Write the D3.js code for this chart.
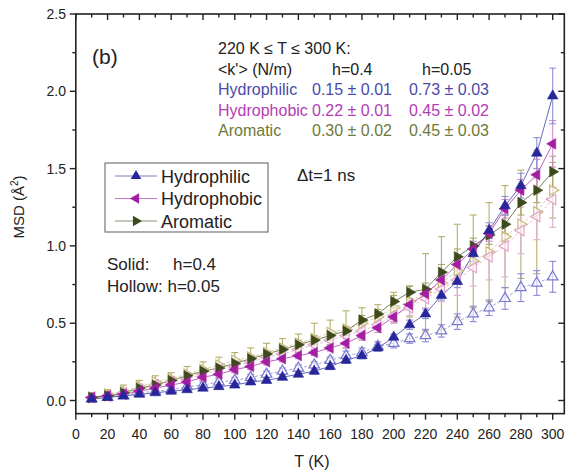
<!DOCTYPE html>
<html><head><meta charset="utf-8">
<script src="https://cdn.jsdelivr.net/npm/d3@7/dist/d3.min.js"></script>
<style>body{margin:0;background:#fff}svg{display:block;font-family:"Liberation Sans",Arial,sans-serif}</style>
</head><body><svg id="c" width="566" height="475"></svg>
<script>
const temps = d3.range(10, 301, 10);
const philicSolid = [0.01,0.02,0.03,0.04,0.05,0.06,0.07,0.08,0.09,0.10,0.12,0.13,0.15,0.17,0.19,0.22,0.26,0.29,0.34,0.41,0.49,0.56,0.68,0.77,0.95,1.10,1.26,1.39,1.60,1.97];
const philicSolidErr = [0.01,0.01,0.01,0.01,0.01,0.01,0.01,0.01,0.01,0.01,0.01,0.01,0.01,0.01,0.02,0.02,0.02,0.02,0.02,0.02,0.03,0.03,0.03,0.04,0.05,0.05,0.06,0.08,0.10,0.18];
const philicHollow = [0.01,0.02,0.03,0.05,0.06,0.07,0.09,0.10,0.12,0.13,0.15,0.17,0.19,0.21,0.23,0.26,0.29,0.31,0.35,0.37,0.40,0.42,0.45,0.51,0.56,0.60,0.66,0.73,0.76,0.80];
const philicHollowErr = [0.01,0.01,0.01,0.01,0.01,0.01,0.01,0.02,0.02,0.02,0.02,0.02,0.02,0.02,0.02,0.02,0.03,0.03,0.03,0.03,0.03,0.04,0.04,0.05,0.05,0.05,0.07,0.09,0.08,0.10];
const phobicSolid = [0.02,0.03,0.04,0.06,0.08,0.10,0.12,0.15,0.17,0.20,0.22,0.25,0.27,0.29,0.31,0.34,0.37,0.42,0.47,0.54,0.62,0.69,0.78,0.88,0.98,1.08,1.24,1.36,1.46,1.66];
const phobicSolidErr = [0.01,0.01,0.01,0.01,0.01,0.01,0.01,0.02,0.02,0.02,0.02,0.02,0.02,0.02,0.02,0.02,0.03,0.03,0.03,0.03,0.03,0.04,0.04,0.04,0.05,0.05,0.06,0.07,0.10,0.15];
const phobicHollow = [0.02,0.03,0.05,0.07,0.10,0.12,0.14,0.17,0.20,0.22,0.25,0.28,0.30,0.33,0.36,0.39,0.42,0.45,0.49,0.55,0.60,0.66,0.72,0.78,0.86,0.93,1.00,1.10,1.19,1.30];
const phobicHollowErr = [0.02,0.02,0.02,0.02,0.02,0.02,0.03,0.03,0.03,0.03,0.03,0.03,0.04,0.04,0.04,0.04,0.05,0.05,0.05,0.05,0.05,0.06,0.08,0.10,0.12,0.15,0.20,0.15,0.15,0.18];
const aroSolid = [0.02,0.03,0.05,0.08,0.10,0.13,0.16,0.19,0.21,0.24,0.27,0.30,0.33,0.36,0.39,0.42,0.45,0.52,0.56,0.64,0.70,0.72,0.83,0.93,1.00,1.07,1.14,1.28,1.36,1.48];
const aroSolidErr = [0.01,0.01,0.01,0.01,0.02,0.02,0.02,0.02,0.02,0.02,0.02,0.02,0.02,0.03,0.03,0.03,0.03,0.03,0.03,0.04,0.04,0.04,0.05,0.05,0.05,0.06,0.06,0.08,0.08,0.10];
const aroHollow = [0.02,0.04,0.06,0.09,0.12,0.14,0.17,0.20,0.23,0.26,0.28,0.31,0.34,0.37,0.40,0.44,0.46,0.50,0.54,0.60,0.64,0.70,0.76,0.84,0.90,0.96,1.06,1.14,1.22,1.36];
const aroHollowErr = [0.03,0.03,0.04,0.04,0.04,0.04,0.05,0.05,0.05,0.05,0.06,0.06,0.06,0.06,0.10,0.08,0.12,0.10,0.08,0.10,0.10,0.25,0.30,0.30,0.30,0.32,0.33,0.35,0.40,0.18];

const xTicks = d3.range(0, 301, 20);
const yTicks = [0, 0.5, 1.0, 1.5, 2.0, 2.5];

const series = [
  {v: aroHollow, e: aroHollowErr, c: "#c9b97a", ec: "#b7ad6a", shape: "right", hollow: true},
  {v: phobicHollow, e: phobicHollowErr, c: "#e3a0c8", ec: "#e0b0cf", shape: "left", hollow: true},
  {v: philicHollow, e: philicHollowErr, c: "#7a78cc", ec: "#8a88d4", shape: "up", hollow: true},
  {v: aroSolid, e: aroSolidErr, c: "#3d4a1c", ec: "#a9a763", shape: "right", hollow: false},
  {v: phobicSolid, e: phobicSolidErr, c: "#a41ea4", ec: "#d08ad0", shape: "left", hollow: false},
  {v: philicSolid, e: philicSolidErr, c: "#27279a", ec: "#8f8fd8", shape: "up", hollow: false}
];

const svg = d3.select("#c");
const x = d3.scaleLinear().domain([0, 300]).range([75.8, 552.7]);
const y = d3.scaleLinear().domain([0, 2.5]).range([400.5, 14]);
const xL = x(0), xR = x(307.3), yT = y(2.5), yB = y(-0.085);

// frame
svg.append("rect").attr("x", xL).attr("y", yT).attr("width", xR - xL).attr("height", yB - yT)
  .attr("fill", "none").attr("stroke", "#222").attr("stroke-width", 1.6);

// x ticks
const gx = svg.append("g");
d3.range(0, 301, 10).forEach(t => {
  const major = t % 20 === 0;
  const len = major ? 6 : 3.5;
  gx.append("line").attr("x1", x(t)).attr("x2", x(t)).attr("y1", yB).attr("y2", yB + len).attr("stroke", "#222").attr("stroke-width", 1.4);
  gx.append("line").attr("x1", x(t)).attr("x2", x(t)).attr("y1", yT).attr("y2", yT + len).attr("stroke", "#222").attr("stroke-width", 1.4);
});
xTicks.forEach(t => {
  gx.append("text").attr("x", x(t)).attr("y", 439).attr("text-anchor", "middle").attr("font-size", 14).attr("fill", "#222").text(t);
});
// y ticks
d3.range(0, 2.51, 0.25).forEach(v => {
  const major = Math.abs(v * 2 - Math.round(v * 2)) < 1e-6;
  const len = major ? 6 : 3.5;
  gx.append("line").attr("x1", xL).attr("x2", xL - len).attr("y1", y(v)).attr("y2", y(v)).attr("stroke", "#222").attr("stroke-width", 1.4);
  gx.append("line").attr("x1", xR).attr("x2", xR - len).attr("y1", y(v)).attr("y2", y(v)).attr("stroke", "#222").attr("stroke-width", 1.4);
});
yTicks.forEach(v => {
  gx.append("text").attr("x", 66).attr("y", y(v) + 5).attr("text-anchor", "end").attr("font-size", 14).attr("fill", "#222").text(v.toFixed(1));
});

// axis titles
svg.append("text").attr("x", 312).attr("y", 467).attr("text-anchor", "middle").attr("font-size", 16).attr("fill", "#222").text("T (K)");
const yl = svg.append("text").attr("transform", "translate(24,207) rotate(-90)").attr("text-anchor", "middle").attr("font-size", 15).attr("fill", "#222");
yl.append("tspan").text("MSD (Å");
yl.append("tspan").attr("font-size", 10).attr("dy", -6).text("2");
yl.append("tspan").attr("dy", 6).text(")");

function sym(shape) {
  const rot = shape === "up" ? 0 : (shape === "left" ? -90 : 90);
  return {path: d3.symbol().type(d3.symbolTriangle).size(48)(), rot};
}

const plot = svg.append("g");
const line = d3.line().x((d, i) => x(temps[i])).y(d => y(d));
series.forEach(s => {
  plot.append("path").attr("d", line(s.v)).attr("fill", "none").attr("stroke", s.c)
    .attr("stroke-width", 1).attr("stroke-opacity", 0.7).attr("stroke-dasharray", s.hollow ? "3,2" : null);
});
series.forEach(s => {
  const g = plot.append("g").attr("stroke", s.ec).attr("stroke-width", 1.1);
  s.v.forEach((v, i) => {
    const cx = x(temps[i]), e = s.e[i];
    g.append("line").attr("x1", cx).attr("x2", cx).attr("y1", y(v + e)).attr("y2", y(v - e));
    g.append("line").attr("x1", cx - 3.5).attr("x2", cx + 3.5).attr("y1", y(v + e)).attr("y2", y(v + e));
    g.append("line").attr("x1", cx - 3.5).attr("x2", cx + 3.5).attr("y1", y(v - e)).attr("y2", y(v - e));
  });
});
series.forEach(s => {
  const m = sym(s.shape);
  s.v.forEach((v, i) => {
    plot.append("path").attr("d", m.path)
      .attr("transform", `translate(${x(temps[i])},${y(v)}) rotate(${m.rot})`)
      .attr("fill", s.hollow ? "#fff" : s.c).attr("fill-opacity", s.hollow ? 0.6 : 1)
      .attr("stroke", s.c).attr("stroke-width", s.hollow ? 1.2 : 0.6);
  });
});

// legend
const legendNames = ["Hydrophilic", "Hydrophobic", "Aromatic"];
const legendSeries = [series[5], series[4], series[3]];
const lg = svg.append("g");
lg.append("rect").attr("x", 105).attr("y", 163).attr("width", 163).attr("height", 69)
  .attr("fill", "#fff").attr("stroke", "#777").attr("stroke-width", 1.2);
legendNames.forEach((n, i) => {
  const yy = 176 + i * 22.5;
  const s = legendSeries[i];
  const m = sym(s.shape);
  lg.append("line").attr("x1", 115).attr("x2", 157).attr("y1", yy).attr("y2", yy).attr("stroke", s.c).attr("stroke-opacity", 0.6);
  lg.append("path").attr("d", m.path).attr("transform", `translate(136,${yy}) rotate(${m.rot})`).attr("fill", s.c);
  lg.append("text").attr("x", 161).attr("y", yy + 6.5).attr("font-size", 18).attr("fill", "#222").text(n);
});

// annotations
svg.append("text").attr("x", 92).attr("y", 64).attr("font-size", 21).attr("fill", "#222").text("(b)");
const ann = svg.append("g").attr("font-size", 16);
ann.append("text").attr("x", 218).attr("y", 54).attr("fill", "#222").text("220 K \u2264 T \u2264 300 K:");
ann.append("text").attr("x", 218).attr("y", 74.5).attr("fill", "#222").text("<k'> (N/m)");
ann.append("text").attr("x", 332).attr("y", 74.5).attr("fill", "#222").text("h=0.4");
ann.append("text").attr("x", 422).attr("y", 74.5).attr("fill", "#222").text("h=0.05");
const rowNames = ["Hydrophilic", "Hydrophobic", "Aromatic"];
const rowColors = ["#4a4aa8", "#b43cb4", "#6d7a3a"];
const kSolid = ["0.15 \u00b1 0.01", "0.22 \u00b1 0.01", "0.30 \u00b1 0.02"];
const kHollow = ["0.73 \u00b1 0.03", "0.45 \u00b1 0.02", "0.45 \u00b1 0.03"];
rowNames.forEach((n, i) => {
  const yy = 95 + i * 20.5;
  ann.append("text").attr("x", 218).attr("y", yy).attr("fill", rowColors[i]).text(n);
  ann.append("text").attr("x", 312).attr("y", yy).attr("fill", rowColors[i]).text(kSolid[i]);
  ann.append("text").attr("x", 409).attr("y", yy).attr("fill", rowColors[i]).text(kHollow[i]);
});
svg.append("text").attr("x", 297).attr("y", 181).attr("font-size", 17).attr("fill", "#222").text("\u0394t=1 ns");
svg.append("text").attr("x", 107).attr("y", 270).attr("font-size", 17).attr("fill", "#222").text("Solid:");
svg.append("text").attr("x", 173).attr("y", 270).attr("font-size", 17).attr("fill", "#222").text("h=0.4");
svg.append("text").attr("x", 107).attr("y", 292).attr("font-size", 17).attr("fill", "#222").text("Hollow: h=0.05");
</script></body></html>
